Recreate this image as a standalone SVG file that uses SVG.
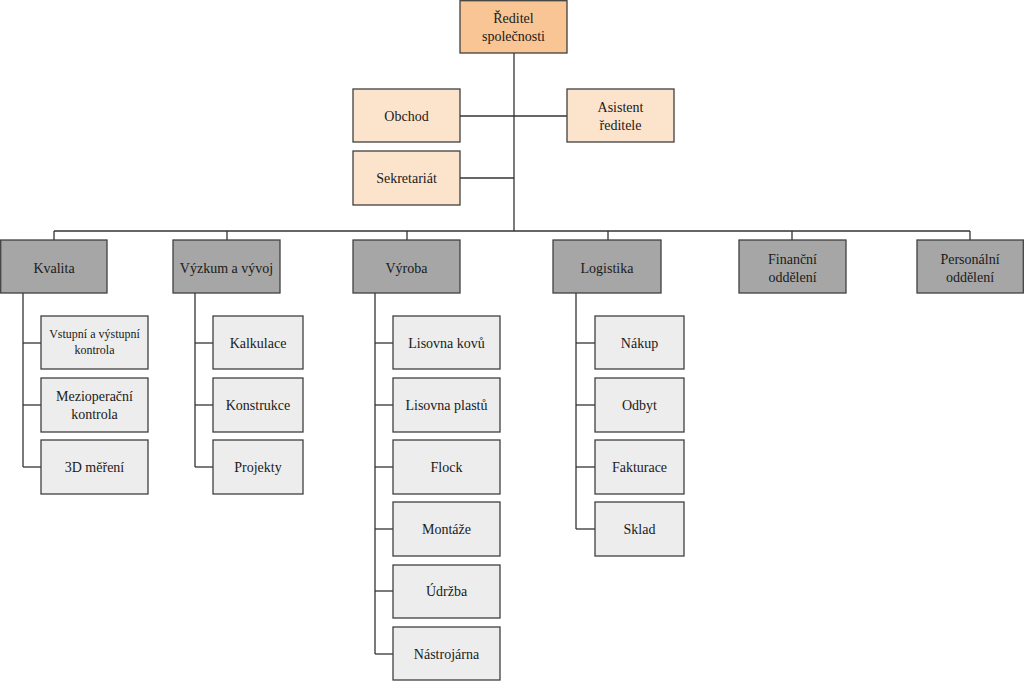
<svg xmlns="http://www.w3.org/2000/svg" width="1024" height="681" viewBox="0 0 1024 681" font-family="Liberation Serif, DejaVu Serif, serif">
<style>
rect{stroke:#404040;stroke-width:1.3}
.top{fill:#FAC594}
.mgr{fill:#FCE4CC}
.dept{fill:#A6A6A6}
.sub{fill:#EDEDED}
text{font-family:'Liberation Serif','DejaVu Serif',serif;font-size:14px;fill:#1a1a1a;text-anchor:middle}
.sm{font-size:12px}
#connectors line{stroke:#333;stroke-width:1.3}
</style>
<rect width="1024" height="681" fill="#fff" style="stroke:none"/>
<g id="connectors">
<line x1="514" y1="53" x2="514" y2="231"/>
<line x1="460" y1="116" x2="567" y2="116"/>
<line x1="460" y1="178" x2="514" y2="178"/>
<line x1="54" y1="231" x2="970" y2="231"/>
<line x1="54" y1="231" x2="54" y2="240"/>
<line x1="227" y1="231" x2="227" y2="240"/>
<line x1="407" y1="231" x2="407" y2="240"/>
<line x1="608" y1="231" x2="608" y2="240"/>
<line x1="792" y1="231" x2="792" y2="240"/>
<line x1="970" y1="231" x2="970" y2="240"/>
<line x1="23" y1="293" x2="23" y2="467"/>
<line x1="23" y1="343" x2="41" y2="343"/>
<line x1="23" y1="405" x2="41" y2="405"/>
<line x1="23" y1="467" x2="41" y2="467"/>
<line x1="195" y1="293" x2="195" y2="467"/>
<line x1="195" y1="343" x2="213" y2="343"/>
<line x1="195" y1="405" x2="213" y2="405"/>
<line x1="195" y1="467" x2="213" y2="467"/>
<line x1="375" y1="293" x2="375" y2="654"/>
<line x1="375" y1="343" x2="393" y2="343"/>
<line x1="375" y1="405" x2="393" y2="405"/>
<line x1="375" y1="467" x2="393" y2="467"/>
<line x1="375" y1="529" x2="393" y2="529"/>
<line x1="375" y1="591" x2="393" y2="591"/>
<line x1="375" y1="654" x2="393" y2="654"/>
<line x1="576" y1="293" x2="576" y2="529"/>
<line x1="576" y1="343" x2="595" y2="343"/>
<line x1="576" y1="405" x2="595" y2="405"/>
<line x1="576" y1="467" x2="595" y2="467"/>
<line x1="576" y1="529" x2="595" y2="529"/>
</g>
<g id="reditel"><rect class="top" x="460" y="0.7" width="107" height="52.3"/><text x="513.5" y="23">Ředitel</text><text x="513.5" y="41">společnosti</text></g>
<g id="obchod"><rect class="mgr" x="353" y="89" width="107" height="53"/><text x="406.5" y="121">Obchod</text></g>
<g id="asistent"><rect class="mgr" x="567" y="89" width="107" height="53"/><text x="620.5" y="112">Asistent</text><text x="620.5" y="130">ředitele</text></g>
<g id="sekretariat"><rect class="mgr" x="353" y="151" width="107" height="54"/><text x="406.5" y="183">Sekretariát</text></g>
<g id="kvalita"><rect class="dept" x="0.7" y="240" width="106.3" height="53"/><text x="54" y="273">Kvalita</text></g>
<g id="vyzkum"><rect class="dept" x="173" y="240" width="107" height="53"/><text x="226.5" y="273">Výzkum a vývoj</text></g>
<g id="vyroba"><rect class="dept" x="353" y="240" width="107" height="53"/><text x="406.5" y="273">Výroba</text></g>
<g id="logistika"><rect class="dept" x="553" y="240" width="108" height="53"/><text x="607" y="273">Logistika</text></g>
<g id="financni"><rect class="dept" x="739" y="240" width="107" height="53"/><text x="792.5" y="264">Finanční</text><text x="792.5" y="282">oddělení</text></g>
<g id="personalni"><rect class="dept" x="917" y="240" width="106.3" height="53"/><text x="970" y="264">Personální</text><text x="970" y="282">oddělení</text></g>
<g id="vstupni"><rect class="sub" x="41" y="316" width="107" height="53"/><text class="sm" x="94.5" y="338">Vstupní a výstupní</text><text class="sm" x="94.5" y="354">kontrola</text></g>
<g id="mezi"><rect class="sub" x="41" y="378" width="107" height="54"/><text x="94.5" y="401">Mezioperační</text><text x="94.5" y="419">kontrola</text></g>
<g id="mereni3d"><rect class="sub" x="41" y="440" width="107" height="54"/><text x="94.5" y="472">3D měření</text></g>
<g id="kalkulace"><rect class="sub" x="213" y="316" width="90" height="53"/><text x="258" y="348">Kalkulace</text></g>
<g id="konstrukce"><rect class="sub" x="213" y="378" width="90" height="54"/><text x="258" y="410">Konstrukce</text></g>
<g id="projekty"><rect class="sub" x="213" y="440" width="90" height="54"/><text x="258" y="472">Projekty</text></g>
<g id="lisovnakovu"><rect class="sub" x="393" y="316" width="107" height="53"/><text x="446.5" y="348">Lisovna kovů</text></g>
<g id="lisovnaplastu"><rect class="sub" x="393" y="378" width="107" height="54"/><text x="446.5" y="410">Lisovna plastů</text></g>
<g id="flock"><rect class="sub" x="393" y="440" width="107" height="54"/><text x="446.5" y="472">Flock</text></g>
<g id="montaze"><rect class="sub" x="393" y="502" width="107" height="54"/><text x="446.5" y="534">Montáže</text></g>
<g id="udrzba"><rect class="sub" x="393" y="565" width="107" height="53"/><text x="446.5" y="596">Údržba</text></g>
<g id="nastrojarna"><rect class="sub" x="393" y="627" width="107" height="53"/><text x="446.5" y="659">Nástrojárna</text></g>
<g id="nakup"><rect class="sub" x="595" y="316" width="89" height="53"/><text x="639.5" y="348">Nákup</text></g>
<g id="odbyt"><rect class="sub" x="595" y="378" width="89" height="54"/><text x="639.5" y="410">Odbyt</text></g>
<g id="fakturace"><rect class="sub" x="595" y="440" width="89" height="54"/><text x="639.5" y="472">Fakturace</text></g>
<g id="sklad"><rect class="sub" x="595" y="502" width="89" height="54"/><text x="639.5" y="534">Sklad</text></g>
</svg>
